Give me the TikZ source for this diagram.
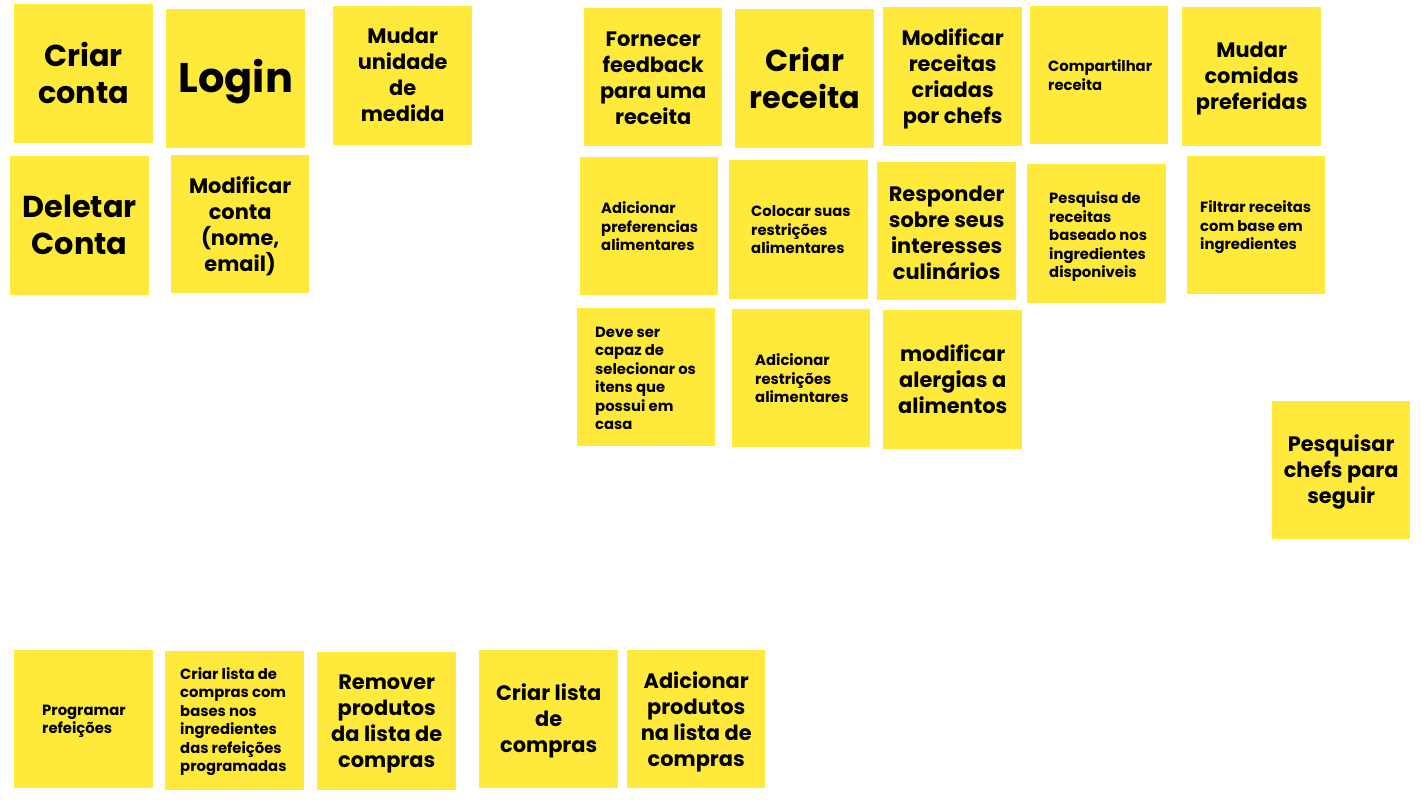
\documentclass[tikz,border=0pt]{standalone}
\usepackage{fontspec}
\setmainfont{Poppins}
\definecolor{sticky}{HTML}{FFEA3C}
\begin{document}
\begin{tikzpicture}[x=1pt,y=-1pt,
  note/.style={fill=sticky, draw=none, inner sep=0pt, anchor=north west, minimum width=139pt, minimum height=139pt},
  bigtxt/.style={font=\bfseries\fontsize{30.3}{37}\selectfont, align=center, inner sep=0pt},
  logintxt/.style={font=\bfseries\fontsize{41.5}{48}\selectfont, align=center, inner sep=0pt},
  medtxt/.style={font=\bfseries\fontsize{20.9}{26}\selectfont, align=center, inner sep=0pt},
  smalltxt/.style={font=\bfseries\fontsize{14.8}{18.5}\selectfont, align=left, inner sep=0pt, anchor=west}]
\useasboundingbox[fill=white] (0,0) rectangle (1422,800);
% notes
\node[note] (n1) at (14,4) {};
\node[note] (n2) at (166,9) {};
\node[note] (n3) at (333,6) {};
\node[note] (n4) at (10,156) {};
\node[note, minimum width=138pt, minimum height=138pt] (n5) at (171,155) {};
\node[note, minimum width=138pt, minimum height=138pt] (n6) at (584,8) {};
\node[note] (n7) at (735,9) {};
\node[note] (n8) at (883,7) {};
\node[note, minimum width=138pt, minimum height=138pt] (n9) at (580,157) {};
\node[note] (n10) at (729,160) {};
\node[note, minimum height=138pt] (n11) at (877,162) {};
\node[note, minimum width=138pt, minimum height=138pt] (n12) at (1030,6) {};
\node[note] (n13) at (1182,7) {};
\node[note] (n14) at (1027,164) {};
\node[note, minimum width=138pt, minimum height=138pt] (n15) at (1187,156) {};
\node[note, minimum width=138pt, minimum height=138pt] (n16) at (577,308) {};
\node[note, minimum width=138pt, minimum height=138pt] (n17) at (732,309) {};
\node[note] (n18) at (883,310) {};
\node[note, minimum width=138pt, minimum height=138pt] (n19) at (1272,401) {};
\node[note, minimum height=138pt] (n20) at (14,650) {};
\node[note] (n21) at (165,651) {};
\node[note, minimum height=138pt] (n22) at (317,652) {};
\node[note, minimum height=138pt] (n23) at (479,650) {};
\node[note, minimum width=138pt, minimum height=138pt] (n24) at (627,650) {};
% texts (yshift > 0 moves up)
\node[bigtxt] (t1) at ([yshift=0.5pt]n1.center) {Criar\\conta};
\node[logintxt] (t2) at ([yshift=-3pt]n2.center) {Login};
\node[medtxt] (t3) at ([yshift=1pt]n3.center) {Mudar\\unidade\\de\\medida};
\node[bigtxt] (t4) at ([yshift=1pt]n4.center) {Deletar\\Conta};
\node[medtxt] (t5) at ([yshift=-2pt]n5.center) {Modificar\\conta\\(nome,\\email)};
\node[medtxt] (t6) at ([yshift=-1pt]n6.center) {Fornecer\\feedback\\para uma\\receita};
\node[bigtxt] (t7) at ([yshift=1pt]n7.center) {Criar\\receita};
\node[medtxt] (t8) at ([yshift=-2pt]n8.center) {Modificar\\receitas\\criadas\\por chefs};
\node[smalltxt] (t9) at ([xshift=21pt]n9.west) {Adicionar\\preferencias\\alimentares};
\node[smalltxt] (t10) at ([xshift=22pt]n10.west) {Colocar suas\\restrições\\alimentares};
\node[medtxt] (t11) at ([yshift=-2pt]n11.center) {Responder\\sobre seus\\interesses\\culinários};
\node[smalltxt] (t12) at ([xshift=18pt]n12.west) {Compartilhar\\receita};
\node[medtxt] (t13) at ([yshift=-2pt]n13.center) {Mudar\\comidas\\preferidas};
\node[smalltxt] (t14) at ([xshift=22pt,yshift=-3pt]n14.west) {Pesquisa de\\receitas\\baseado nos\\ingredientes\\disponiveis};
\node[smalltxt] (t15) at ([xshift=13pt,yshift=-2pt]n15.west) {Filtrar receitas\\com base em\\ingredientes};
\node[smalltxt] (t16) at ([xshift=18pt,yshift=-1pt]n16.west) {Deve ser\\capaz de\\selecionar os\\itens que\\possui em\\casa};
\node[smalltxt] (t17) at ([xshift=23pt]n17.west) {Adicionar\\restrições\\alimentares};
\node[medtxt] (t18) at (n18.center) {modificar\\alergias a\\alimentos};
\node[medtxt] (t19) at ([yshift=-2pt]n19.center) {Pesquisar\\chefs para\\seguir};
\node[smalltxt] (t20) at ([xshift=28pt,yshift=-2pt]n20.west) {Programar\\refeições};
\node[smalltxt] (t21) at ([xshift=15pt,yshift=-1pt]n21.west) {Criar lista de\\compras com\\bases nos\\ingredientes\\das refeições\\programadas};
\node[medtxt] (t22) at ([yshift=-3pt]n22.center) {Remover\\produtos\\da lista de\\compras};
\node[medtxt] (t23) at ([yshift=-2pt]n23.center) {Criar lista\\de\\compras};
\node[medtxt] (t24) at ([yshift=-3pt]n24.center) {Adicionar\\produtos\\na lista de\\compras};
\end{tikzpicture}
\end{document}
